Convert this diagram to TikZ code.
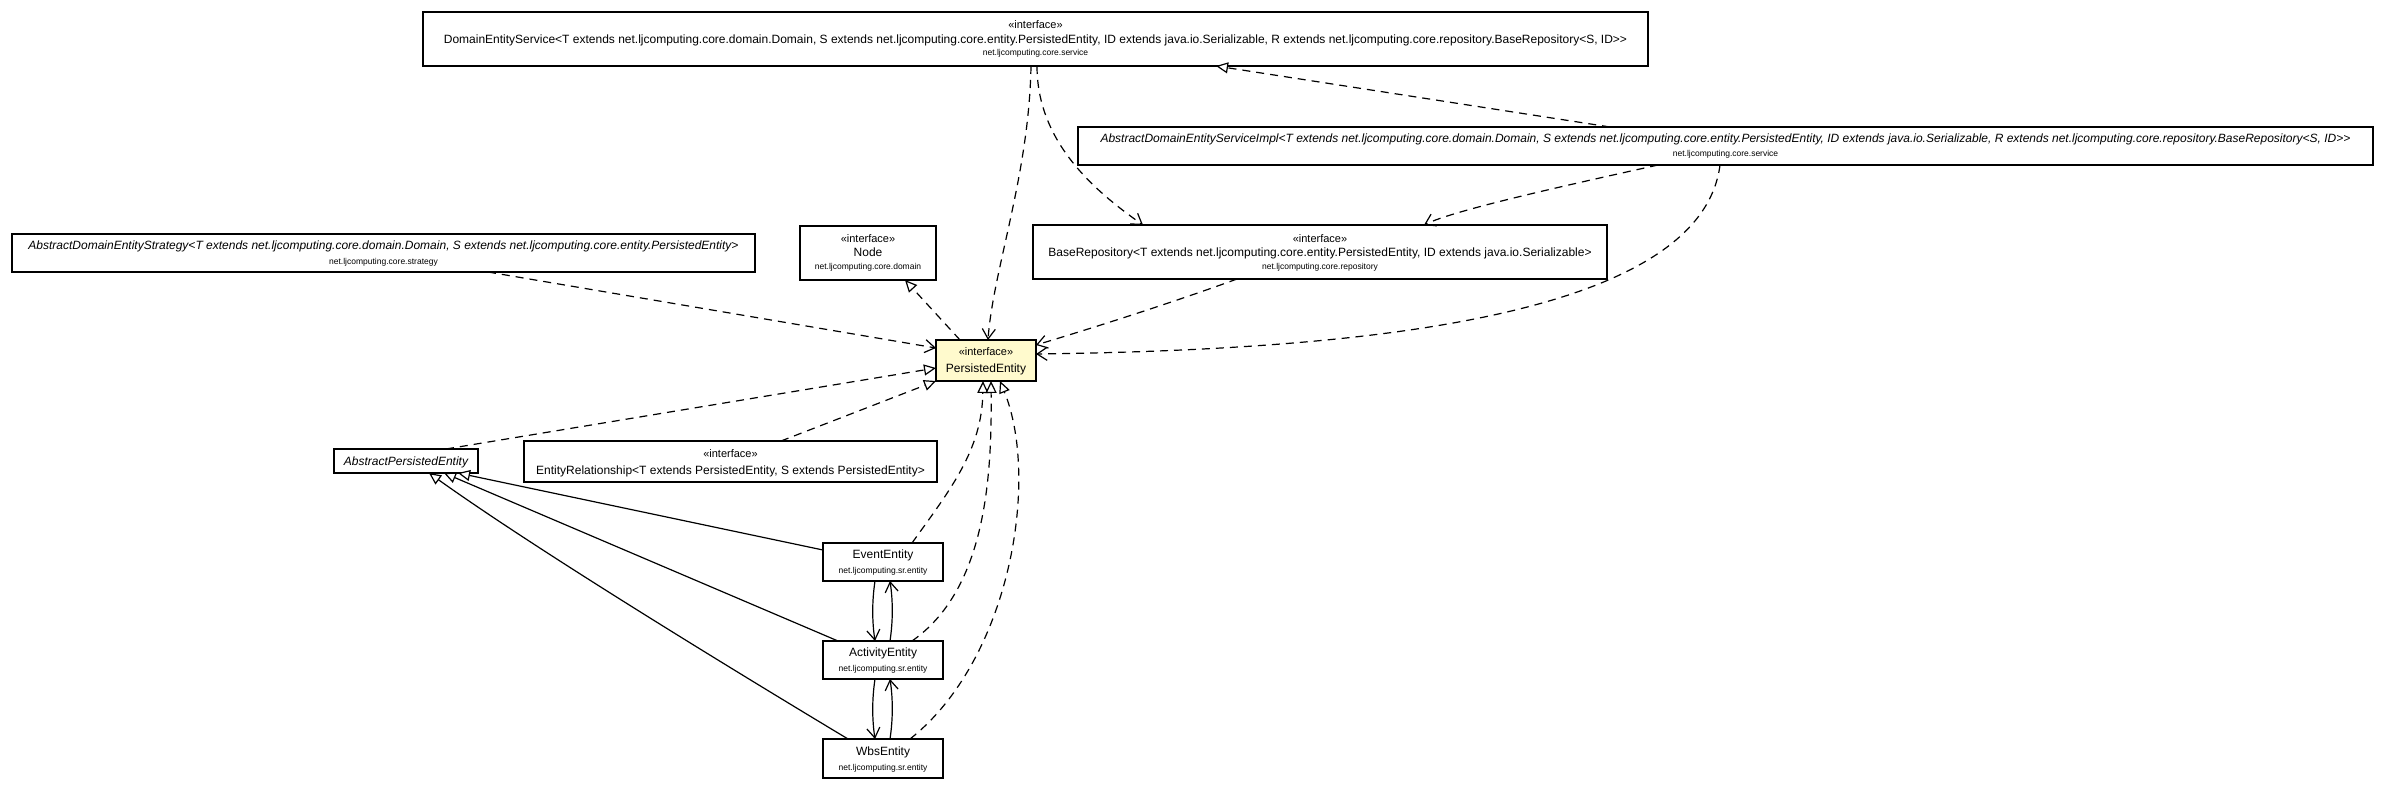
\documentclass[tikz,border=0pt]{standalone}
\usepackage{fontspec}
\setmainfont{Liberation Sans}
\usetikzlibrary{arrows.meta,calc}
\definecolor{lemon}{RGB}{255,250,205}
\begin{document}
\begin{tikzpicture}[x=1pt,y=-1pt,
  box/.style={draw=black,line width=1.3pt,fill=white,inner sep=0pt,outer sep=0pt},
  nm/.style={anchor=base,inner sep=0pt,font=\fontsize{12}{14}\selectfont},
  itn/.style={anchor=base,inner sep=0pt,font=\fontsize{12}{14}\selectfont\itshape},
  st/.style={anchor=base,inner sep=0pt,font=\fontsize{11}{13}\selectfont},
  pk/.style={anchor=base,inner sep=0pt,font=\fontsize{8.5}{10}\selectfont},
  edge/.style={line width=1.2pt},
  dep/.style={edge,dash pattern=on 8pt off 6pt,-{Straight Barb[length=10pt,width=13pt]}},
  real/.style={edge,dash pattern=on 8pt off 6pt,-{Triangle[open,length=12pt,width=11pt,fill=white]}},
  gen/.style={edge,-{Triangle[open,length=12pt,width=11pt,fill=white]}},
  assoc/.style={edge,-{Straight Barb[length=10pt,width=13pt]}},
]
\fill[white] (0,0) rectangle (2391,789);
\path[use as bounding box] (0,0) rectangle (2391,789);

% boxes
\node[box,minimum width=1225pt,minimum height=54pt] (des) at (1035.5,39) {};
\node[box,minimum width=1295pt,minimum height=38pt] (adesi) at (1725.5,146) {};
\node[box,minimum width=743pt,minimum height=38pt] (ades) at (383.5,253) {};
\node[box,minimum width=136pt,minimum height=54pt] (nodei) at (868,253) {};
\node[box,minimum width=574pt,minimum height=54pt] (baserepo) at (1320,252) {};
\node[box,fill=lemon,minimum width=100pt,minimum height=41pt] (pe) at (986,360.5) {};
\node[box,minimum width=144pt,minimum height=24pt] (ape) at (406,461) {};
\node[box,minimum width=413pt,minimum height=41pt] (er) at (730.5,461.5) {};
\node[box,minimum width=120pt,minimum height=38pt] (event) at (883,562) {};
\node[box,minimum width=120pt,minimum height=38pt] (activity) at (883,660) {};
\node[box,minimum width=120pt,minimum height=39pt] (wbs) at (883,758.5) {};

% texts
\node[st] (des-s) at (1035.5,28.5) {«interface»};
\node[nm] (des-n) at (1035.5,43.5) {DomainEntityService<T extends net.ljcomputing.core.domain.Domain, S extends net.ljcomputing.core.entity.PersistedEntity, ID extends java.io.Serializable, R extends net.ljcomputing.core.repository.BaseRepository<S, ID>{}>};
\node[pk] (des-p) at (1035.5,56) {net.ljcomputing.core.service};

\node[itn] (adesi-n) at (1725.5,142.5) {AbstractDomainEntityServiceImpl<T extends net.ljcomputing.core.domain.Domain, S extends net.ljcomputing.core.entity.PersistedEntity, ID extends java.io.Serializable, R extends net.ljcomputing.core.repository.BaseRepository<S, ID>{}>};
\node[pk] (adesi-p) at (1725.5,157) {net.ljcomputing.core.service};

\node[itn] (ades-n) at (383.5,249.3) {AbstractDomainEntityStrategy<T extends net.ljcomputing.core.domain.Domain, S extends net.ljcomputing.core.entity.PersistedEntity>};
\node[pk] (ades-p) at (383.5,264) {net.ljcomputing.core.strategy};

\node[st] (nodei-s) at (868,242) {«interface»};
\node[nm] (nodei-n) at (868,256.3) {Node};
\node[pk] (nodei-p) at (868,269) {net.ljcomputing.core.domain};

\node[st] (baserepo-s) at (1320,242) {«interface»};
\node[nm] (baserepo-n) at (1320,256.3) {BaseRepository<T extends net.ljcomputing.core.entity.PersistedEntity, ID extends java.io.Serializable>};
\node[pk] (baserepo-p) at (1320,269) {net.ljcomputing.core.repository};

\node[st] (pe-s) at (986,355.5) {«interface»};
\node[nm] (pe-n) at (986,372.3) {PersistedEntity};

\node[itn] (ape-n) at (406,465.3) {AbstractPersistedEntity};

\node[st] (er-s) at (730.5,457.5) {«interface»};
\node[nm] (er-n) at (730.5,474.3) {EntityRelationship<T extends PersistedEntity, S extends PersistedEntity>};

\node[nm] (event-n) at (883,558.3) {EventEntity};
\node[pk] (event-p) at (883,573) {net.ljcomputing.sr.entity};
\node[nm] (activity-n) at (883,656.3) {ActivityEntity};
\node[pk] (activity-p) at (883,671) {net.ljcomputing.sr.entity};
\node[nm] (wbs-n) at (883,755.3) {WbsEntity};
\node[pk] (wbs-p) at (883,770) {net.ljcomputing.sr.entity};

% connectors
\draw[dep] ([xshift=-4.5pt]des.south) .. controls +(-2,110) and +(5,-70) .. ([xshift=2pt]pe.north);
\draw[dep] ([xshift=1.5pt]des.south) .. controls +(0,75) and +(-50,-35) .. ([xshift=-177pt]baserepo.north);
\draw[real] ([xshift=-115.5pt]adesi.north) -- ([xshift=180.5pt]des.south);
\draw[dep] ([xshift=-67.5pt]adesi.south) .. controls +(-90,20) and +(30,-15) .. ([xshift=104pt]baserepo.north);
\draw[dep] ([xshift=-5.5pt]adesi.south) .. controls +(-20,155) and +(314,-4) .. ([yshift=6.5pt]pe.east);
\draw[dep] ([xshift=-83pt]baserepo.south) .. controls +(-60,22) and +(60,-18) .. ([yshift=15.5pt]pe.east);
\draw[dep] ([xshift=104.5pt]ades.south) -- ([yshift=12.5pt]pe.west);
\draw[real] ([xshift=-26pt]pe.north) -- ([xshift=37pt]nodei.south);
\draw[real] ([xshift=40pt]ape.north) -- ([yshift=-7.5pt]pe.west);
\draw[real] ([xshift=50.5pt]er.north) -- (pe.south west);
\draw[real] ([xshift=29pt]event.north) .. controls +(38,-53) and +(-1,69) .. ([xshift=-3pt]pe.south);
\draw[real] ([xshift=29pt]activity.north) .. controls +(73,-51) and +(1,99) .. ([xshift=5pt]pe.south);
\draw[real] ([xshift=27pt]wbs.north) .. controls +(100,-79) and +(40,99) .. ([xshift=14pt]pe.south);
\draw[gen] ([yshift=12pt]event.west) -- ([xshift=52pt]ape.south);
\draw[gen] ([xshift=-45pt]activity.north) -- ([xshift=38pt]ape.south);
\draw[gen] ([xshift=-35pt]wbs.north) .. controls +(-148,-89) and +(101,72) .. ([xshift=23pt]ape.south);
\draw[assoc] ([xshift=-8pt]event.south) .. controls +(-3,20) and +(-3,-20) .. ([xshift=-8pt]activity.north);
\draw[assoc] ([xshift=7pt]activity.north) .. controls +(3,-20) and +(3,20) .. ([xshift=7pt]event.south);
\draw[assoc] ([xshift=-8pt]activity.south) .. controls +(-3,20) and +(-3,-20) .. ([xshift=-8pt]wbs.north);
\draw[assoc] ([xshift=7pt]wbs.north) .. controls +(3,-20) and +(3,20) .. ([xshift=7pt]activity.south);
\end{tikzpicture}
\end{document}
